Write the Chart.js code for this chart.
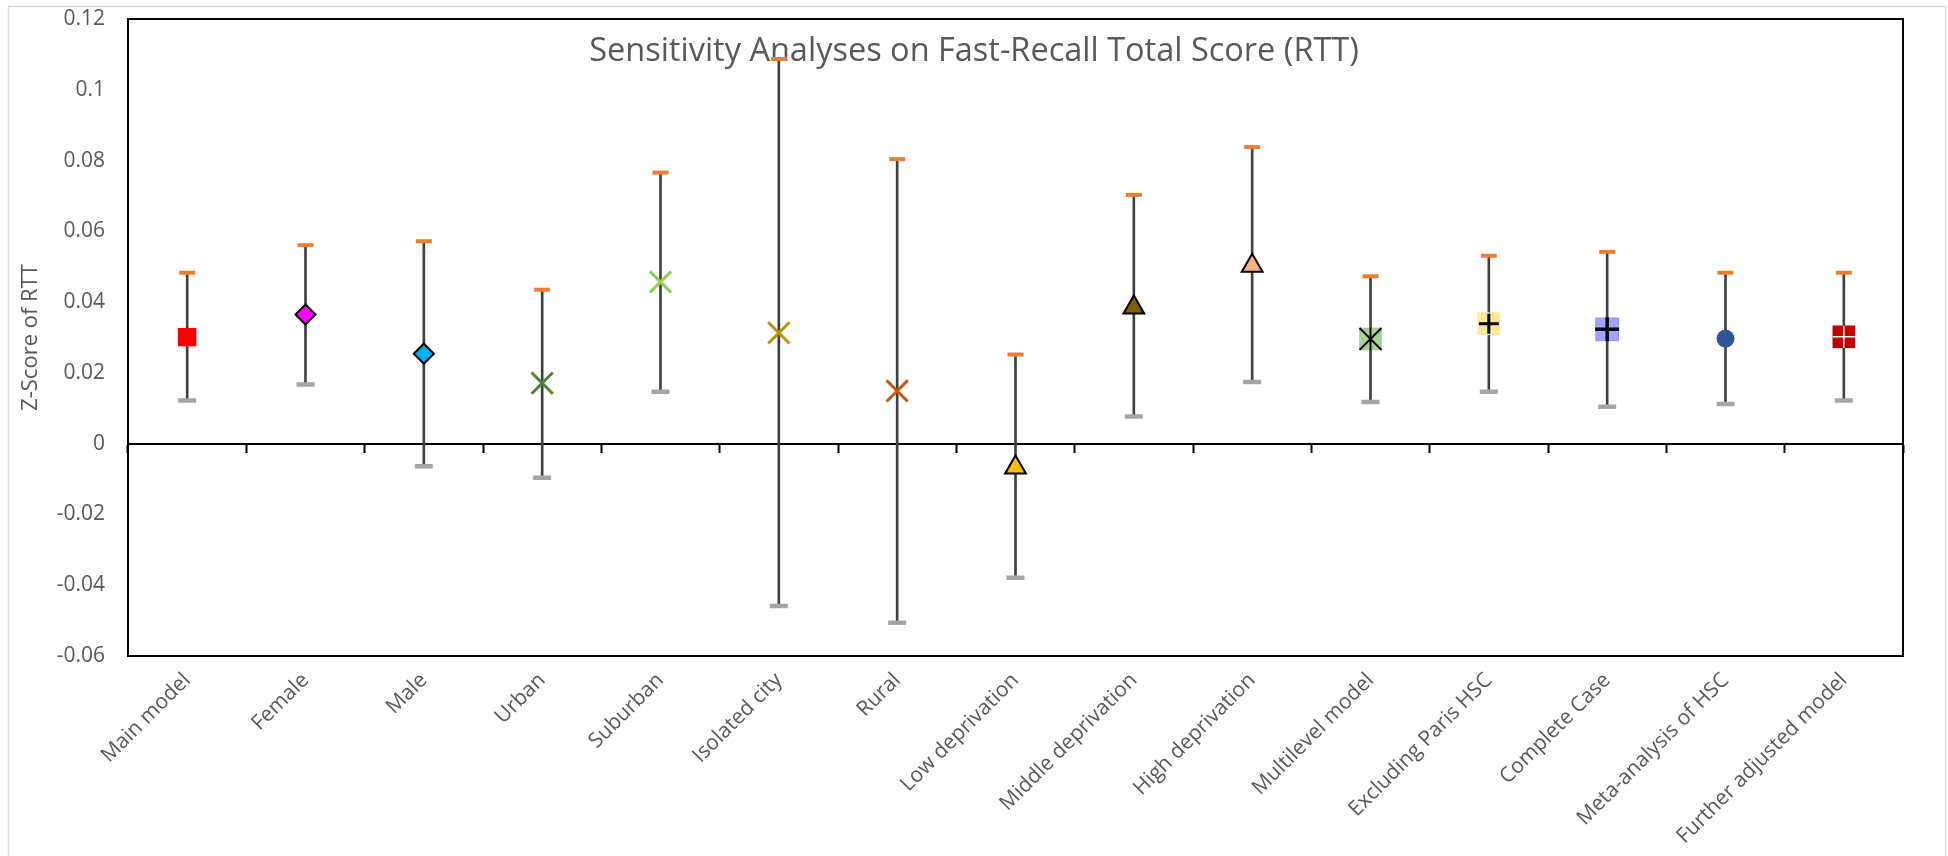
<!DOCTYPE html>
<html>
<head>
<meta charset="utf-8">
<title>Sensitivity Analyses on Fast-Recall Total Score (RTT)</title>
<script src="https://cdn.jsdelivr.net/npm/chart.js@4/dist/chart.umd.min.js"></script>
<style>
  html, body { margin: 0; padding: 0; background: #ffffff; }
  canvas { display: block; }
</style>
</head>
<body>
<canvas id="chart" width="1948" height="856"></canvas>
<script>
// ---- Data ----
const categories = [
  'Main model', 'Female', 'Male', 'Urban', 'Suburban', 'Isolated city', 'Rural',
  'Low deprivation', 'Middle deprivation', 'High deprivation', 'Multilevel model',
  'Excluding Paris HSC', 'Complete Case', 'Meta-analysis of HSC', 'Further adjusted model'
];
const estimates = [0.0301, 0.0365, 0.0254, 0.0171, 0.0457, 0.0313, 0.0149, -0.0067, 0.0385, 0.0503, 0.0296, 0.0339, 0.0323, 0.0297, 0.0302];
const upperCI   = [0.0483, 0.0561, 0.0572, 0.0435, 0.0766, 0.1087, 0.0804, 0.0252, 0.0703, 0.0838, 0.0473, 0.0531, 0.0542, 0.0483, 0.0483];
const lowerCI   = [0.0122, 0.0167, -0.0064, -0.0096, 0.0147, -0.0459, -0.0506, -0.0379, 0.0077, 0.0174, 0.0118, 0.0147, 0.0104, 0.0112, 0.0122];
const yTickValues = [-0.06, -0.04, -0.02, 0, 0.02, 0.04, 0.06, 0.08, 0.1, 0.12];

const chartTitle = 'Sensitivity Analyses on Fast-Recall Total Score (RTT)';
const yAxisTitle = 'Z-Score of RTT';

// ---- Marker styling, one entry per category ----
const markerShape  = ['rect', 'rectRot', 'rectRot', 'crossRot', 'crossRot', 'crossRot', 'crossRot', 'triangle', 'triangle', 'triangle', 'rect', 'rect', 'rect', 'circle', 'rect'];
const markerFill   = ['#FF0000', '#FF00FF', '#00B0F0', '#548235', '#92D050', '#BF9000', '#C55A11', '#FFC000', '#7F6000', '#F4B183', '#A9D18E', '#FFE699', '#A3A3FF', '#2F5597', '#C00000'];
const markerLine   = ['#FF0000', '#000000', '#000000', '#548235', '#92D050', '#BF9000', '#C55A11', '#000000', '#000000', '#000000', '#A9D18E', '#FFE699', '#8F8FFF', '#2F5597', '#C00000'];
const markerWidth  = [0, 2, 2, 3, 3, 3, 3, 2, 2, 2, 0, 0, 1, 0, 0];
const markerRadius = [13, 10, 10, 15, 15, 15, 15, 12, 12, 12, 16, 16, 16, 9, 16];

// glyphs drawn inside the filled square markers
const glyphShape  = [false, false, false, false, false, false, false, false, false, false, 'crossRot', 'cross', 'cross', false, 'cross'];
const glyphColor  = ['#000', '#000', '#000', '#000', '#000', '#000', '#000', '#000', '#000', '#000', '#000000', '#000000', '#000000', '#000', '#FFFFFF'];
const glyphWidth  = [0, 0, 0, 0, 0, 0, 0, 0, 0, 0, 2, 3, 3.5, 0, 1.5];
const glyphRadius = [0, 0, 0, 0, 0, 0, 0, 0, 0, 0, 15.5, 10, 12, 0, 11];
// vertical stroke that turns the multilevel X into a star
const starStemRadius = categories.map((c, i) => i === 10 ? 11.5 : 0);

// ---- Frame, plot border and overlaid title ----
const framePlugin = {
  id: 'frame',
  beforeDraw(chart) {
    const { ctx, width, height } = chart;
    ctx.save();
    ctx.fillStyle = '#FFFFFF';
    ctx.fillRect(0, 0, width, height);
    ctx.strokeStyle = '#D9D9D9';
    ctx.lineWidth = 1.5;
    ctx.strokeRect(8.5, 6.5, width - 11, height + 20);
    ctx.restore();
  },
  beforeDatasetsDraw(chart) {
    const { ctx, chartArea: a, width } = chart;
    ctx.save();
    ctx.strokeStyle = '#000000';
    ctx.lineWidth = 2;
    ctx.strokeRect(a.left, a.top, a.right - a.left, a.bottom - a.top);
    ctx.fillStyle = '#595959';
    ctx.font = '32.5px "Open Sans"';
    ctx.textAlign = 'center';
    ctx.textBaseline = 'alphabetic';
    ctx.fillText(chartTitle, width / 2, 61);
    ctx.restore();
  }
};

const labelFont = { family: '"Open Sans", "DejaVu Sans", sans-serif', size: 21 };
const tickFont  = { family: '"Open Sans", "DejaVu Sans", sans-serif', size: 21 };
const axisTitleFont = { family: '"Open Sans", "DejaVu Sans", sans-serif', size: 22 };

new Chart(document.getElementById('chart'), {
  type: 'line',
  data: {
    labels: categories,
    datasets: [
      {
        label: 'Estimate',
        data: estimates,
        showLine: false,
        pointStyle: markerShape,
        pointBackgroundColor: markerFill,
        pointBorderColor: markerLine,
        pointBorderWidth: markerWidth,
        pointRadius: markerRadius,
        xAxisID: 'x', yAxisID: 'y',
        order: 2
      },
      {
        label: 'Marker glyph',
        data: estimates,
        showLine: false,
        pointStyle: glyphShape,
        pointBackgroundColor: 'rgba(0,0,0,0)',
        pointBorderColor: glyphColor,
        pointBorderWidth: glyphWidth,
        pointRadius: glyphRadius,
        xAxisID: 'x', yAxisID: 'y',
        order: 1
      },
      {
        label: 'Star stem',
        data: estimates,
        showLine: false,
        pointStyle: 'line',
        pointRotation: 90,
        pointBorderColor: '#000000',
        pointBorderWidth: 2,
        pointRadius: starStemRadius,
        xAxisID: 'x', yAxisID: 'y',
        order: 0
      },
      {
        label: 'Upper 95% CI',
        data: upperCI,
        showLine: false,
        pointStyle: 'line',
        pointBorderColor: '#ED7D31',
        pointBorderWidth: 4,
        pointRadius: 8,
        xAxisID: 'x', yAxisID: 'y',
        order: 3
      },
      {
        label: 'Lower 95% CI',
        data: lowerCI,
        showLine: false,
        pointStyle: 'line',
        pointBorderColor: '#A5A5A5',
        pointBorderWidth: 4.5,
        pointRadius: 9,
        xAxisID: 'x', yAxisID: 'y',
        order: 3
      },
      {
        type: 'bar',
        label: '95% CI',
        data: lowerCI.map((lo, i) => [lo, upperCI[i]]),
        backgroundColor: '#404040',
        borderWidth: 0,
        barThickness: 2,
        xAxisID: 'x', yAxisID: 'y',
        order: 4
      }
    ]
  },
  options: {
    responsive: false,
    animation: false,
    events: [],
    devicePixelRatio: 1,
    layout: { padding: { top: 19, right: 45, left: 0, bottom: 0 } },
    plugins: {
      legend: { display: false },
      tooltip: { enabled: false },
      title: { display: false }
    },
    scales: {
      x: {
        type: 'category',
        position: 'bottom',
        offset: true,
        grid: { display: false, drawTicks: false },
        border: { display: true, color: '#000000', width: 2 },
        ticks: {
          autoSkip: false,
          minRotation: 45,
          maxRotation: 45,
          padding: 12,
          color: '#595959',
          font: labelFont
        },
        afterFit(scale) { scale.height = 200; }
      },
      x2: {
        type: 'category',
        labels: categories,
        position: { y: 0 },
        offset: true,
        ticks: { display: false },
        grid: {
          display: true,
          offset: true,
          drawOnChartArea: false,
          drawTicks: true,
          tickLength: 8,
          tickWidth: 2,
          tickColor: '#000000',
          color: '#000000'
        },
        border: { display: true, color: '#000000', width: 2 }
      },
      y: {
        type: 'linear',
        position: 'left',
        min: -0.06,
        max: 0.12,
        afterBuildTicks(scale) { scale.ticks = yTickValues.map(v => ({ value: v })); },
        // invisible tick marks keep the labels clear of the axis line
        grid: {
          display: true,
          drawOnChartArea: false,
          drawTicks: true,
          tickLength: 17,
          tickColor: 'rgba(0,0,0,0)'
        },
        border: { display: true, color: '#000000', width: 2 },
        ticks: {
          padding: 6,
          color: '#595959',
          font: tickFont,
          callback: v => String(v)
        },
        title: {
          display: true,
          text: yAxisTitle,
          color: '#595959',
          font: axisTitleFont,
          padding: { top: 18, bottom: 0 }
        },
        afterFit(scale) { scale.width = 128; }
      }
    }
  },
  plugins: [framePlugin]
});
</script>
</body>
</html>
